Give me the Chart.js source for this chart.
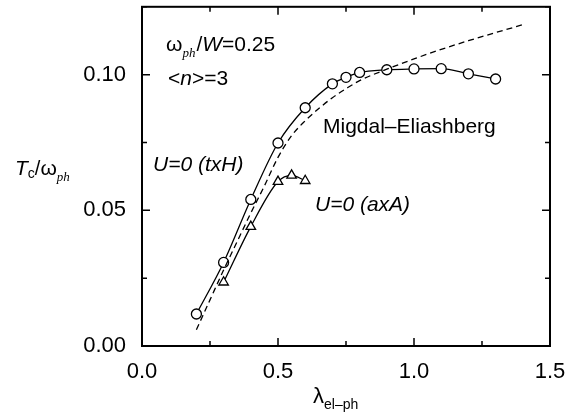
<!DOCTYPE html>
<html>
<head>
<meta charset="utf-8">
<script src="https://cdn.jsdelivr.net/npm/chart.js@4/dist/chart.umd.min.js"></script>
<style>
html,body{margin:0;padding:0;background:#fff;}
#wrap{width:578px;height:418px;position:relative;}
</style>
</head>
<body>
<div id="wrap"><canvas id="c" width="578" height="418"></canvas></div>
<script>
// ---- data ----
const lambdaTxH = [0.2, 0.3, 0.4, 0.5, 0.6, 0.7, 0.75, 0.8, 0.9, 1.0, 1.1, 1.2, 1.3];
const tcTxH     = [0.0118, 0.0308, 0.054, 0.0748, 0.0878, 0.0966, 0.099, 0.1008, 0.1018, 0.1021, 0.1022, 0.1003, 0.0984];

const lambdaAxA = [0.3, 0.4, 0.5, 0.55, 0.6];
const tcAxA     = [0.0235, 0.044, 0.0606, 0.0629, 0.0609];

const lambdaME = [0.2, 0.25, 0.3, 0.35, 0.4, 0.45, 0.5, 0.55, 0.6, 0.65, 0.7, 0.75, 0.8, 0.9, 1.0, 1.1, 1.2, 1.3, 1.4];
const tcME     = [0.006, 0.017, 0.028, 0.0385, 0.049, 0.059, 0.0695, 0.0775, 0.083, 0.0875, 0.0915, 0.0948, 0.0978, 0.102, 0.1058, 0.1093, 0.1125, 0.1155, 0.1184];

const xTickValues = [0.0, 0.5, 1.0, 1.5];
const yTickValues = [0.00, 0.05, 0.10];
const xMinorTicks = [0.25, 0.75, 1.25];
const yMinorTicks = [0.025, 0.075, 0.125];

const toPts = (xs, ys) => xs.map((x, i) => ({x: x, y: ys[i]}));

const SANS = '"Liberation Sans", Arial, Helvetica, sans-serif';
const SERIF = '"Liberation Serif", "Times New Roman", serif';

function richText(ctx, x, y, parts) {
  let cx = x;
  parts.forEach(p => {
    ctx.font = p.font;
    ctx.fillText(p.t, cx, y + (p.dy || 0));
    cx += ctx.measureText(p.t).width + (p.dx || 0);
  });
}

const framePlugin = {
  id: 'frame',
  afterDraw(chart) {
    const ctx = chart.ctx;
    const a = chart.chartArea;
    const xs = chart.scales.x, ys = chart.scales.y;
    ctx.save();
    ctx.strokeStyle = '#000';
    ctx.lineWidth = 2;
    ctx.strokeRect(a.left, a.top, a.right - a.left, a.bottom - a.top);
    ctx.lineWidth = 1.5;
    ctx.beginPath();
    const major = 8, minor = 5;
    xTickValues.forEach(v => {
      const px = xs.getPixelForValue(v);
      ctx.moveTo(px, a.bottom); ctx.lineTo(px, a.bottom - major);
      ctx.moveTo(px, a.top); ctx.lineTo(px, a.top + major);
    });
    xMinorTicks.forEach(v => {
      const px = xs.getPixelForValue(v);
      ctx.moveTo(px, a.bottom); ctx.lineTo(px, a.bottom - minor);
      ctx.moveTo(px, a.top); ctx.lineTo(px, a.top + minor);
    });
    yTickValues.forEach(v => {
      const py = ys.getPixelForValue(v);
      ctx.moveTo(a.left, py); ctx.lineTo(a.left + major, py);
      ctx.moveTo(a.right, py); ctx.lineTo(a.right - major, py);
    });
    yMinorTicks.forEach(v => {
      const py = ys.getPixelForValue(v);
      ctx.moveTo(a.left, py); ctx.lineTo(a.left + minor, py);
      ctx.moveTo(a.right, py); ctx.lineTo(a.right - minor, py);
    });
    ctx.stroke();

    // annotations
    ctx.fillStyle = '#000';
    ctx.textBaseline = 'alphabetic';
    ctx.textAlign = 'left';
    richText(ctx, 166, 51, [
      {t: 'ω', font: '21px ' + SANS},
      {t: 'ph', font: 'italic 13px ' + SERIF, dy: 6, dx: 1},
      {t: '/', font: '21px ' + SANS},
      {t: 'W', font: 'italic 21px ' + SANS},
      {t: '=0.25', font: '21px ' + SANS}
    ]);
    richText(ctx, 168, 85, [
      {t: '<', font: '21px ' + SANS},
      {t: 'n', font: 'italic 21px ' + SANS},
      {t: '>=3', font: '21px ' + SANS}
    ]);
    ctx.font = '21px ' + SANS;
    ctx.fillText('Migdal–Eliashberg', 323, 133);
    ctx.font = 'italic 21px ' + SANS;
    ctx.fillText('U=0 (txH)', 153, 171);
    ctx.fillText('U=0 (axA)', 315, 211);

    // axis titles
    richText(ctx, 15, 175, [
      {t: 'T', font: 'italic 21px ' + SANS},
      {t: 'c', font: '14px ' + SANS, dy: 3},
      {t: '/', font: '20px ' + SANS},
      {t: 'ω', font: '21px ' + SANS},
      {t: 'ph', font: 'italic 13px ' + SERIF, dy: 6}
    ]);
    richText(ctx, 313, 403, [
      {t: 'λ', font: '22px ' + SANS},
      {t: 'el–ph', font: '14px ' + SANS, dy: 6}
    ]);
    ctx.restore();
  }
};

new Chart(document.getElementById('c'), {
  type: 'line',
  data: {
    datasets: [
      {
        label: 'Migdal–Eliashberg',
        data: toPts(lambdaME, tcME),
        borderColor: '#000',
        borderWidth: 1.3,
        borderDash: [6, 4],
        pointRadius: 0,
        cubicInterpolationMode: 'monotone',
        fill: false
      },
      {
        label: 'U=0 (txH)',
        data: toPts(lambdaTxH, tcTxH),
        borderColor: '#000',
        borderWidth: 1.3,
        pointStyle: 'circle',
        pointRadius: 5,
        pointBorderWidth: 1.3,
        pointBackgroundColor: '#fff',
        pointBorderColor: '#000',
        cubicInterpolationMode: 'monotone',
        fill: false
      },
      {
        label: 'U=0 (axA)',
        data: toPts(lambdaAxA, tcAxA),
        borderColor: '#000',
        borderWidth: 1.3,
        pointStyle: 'triangle',
        pointRadius: 5.5,
        pointBorderWidth: 1.3,
        pointBackgroundColor: '#fff',
        pointBorderColor: '#000',
        cubicInterpolationMode: 'monotone',
        fill: false
      }
    ]
  },
  options: {
    responsive: false,
    animation: false,
    devicePixelRatio: 1,
    layout: {padding: {top: 6, right: 28, left: 0, bottom: 0}},
    plugins: {legend: {display: false}, tooltip: {enabled: false}},
    scales: {
      x: {
        type: 'linear',
        min: 0, max: 1.5,
        grid: {display: false, drawTicks: false},
        border: {display: false},
        ticks: {
          stepSize: 0.5,
          padding: 13,
          color: '#000',
          font: {family: SANS, size: 22},
          maxRotation: 0,
          callback: v => Number(v).toFixed(1)
        },
        afterFit: s => { s.height = 72; s.paddingLeft = 0; s.paddingRight = 0; }
      },
      y: {
        type: 'linear',
        min: 0, max: 0.125,
        grid: {display: false, drawTicks: false},
        border: {display: false},
        ticks: {
          stepSize: 0.05,
          includeBounds: false,
          padding: 16,
          color: '#000',
          font: {family: SANS, size: 22},
          callback: v => Number(v).toFixed(2)
        },
        afterFit: s => { s.width = 142; s.paddingTop = 0; s.paddingBottom = 0; }
      }
    }
  },
  plugins: [framePlugin]
});
</script>
</body>
</html>
